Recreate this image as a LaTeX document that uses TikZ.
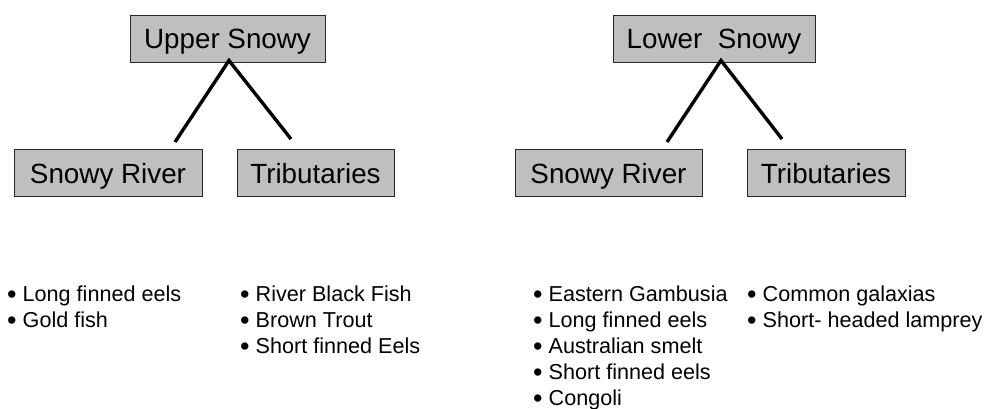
\documentclass[tikz,border=0pt]{standalone}
\usepackage{fontspec}
\setmainfont{Liberation Sans}
\begin{document}
\begin{tikzpicture}[x=1pt,y=-1pt,
  catbox/.style={draw=black!85,line width=0.9pt,fill=black!25,inner sep=0pt,
    text height=26pt,text depth=5pt,
    font=\fontsize{27.8}{32}\selectfont},
  branch/.style={line width=3.4pt,black},
  item/.style={anchor=base west,inner sep=0pt,font=\fontsize{21.6}{26}\selectfont}]
\useasboundingbox (0,0) rectangle (987,409);

% Upper Snowy tree
\node[catbox,minimum width=195pt,minimum height=47pt] (upper) at (227.5,38.5) {Upper Snowy};
\node[catbox,minimum width=188pt,minimum height=47pt] (uriver) at (108,172.5) {Snowy River};
\node[catbox,minimum width=157pt,minimum height=47pt] (utrib) at (315.5,172.5) {Tributaries};
\coordinate (uapex) at (229,60.5);
\coordinate (uleft) at (175,142);
\coordinate (uright) at (291,139);
\draw[branch] (uleft) -- (uapex) -- (uright);

% Lower Snowy tree
\node[catbox,minimum width=202pt,minimum height=47pt] (lower) at (714,38.5) {Lower\ \ Snowy};
\node[catbox,minimum width=187pt,minimum height=47pt] (lriver) at (608.5,172.5) {Snowy River};
\node[catbox,minimum width=158pt,minimum height=47pt] (ltrib) at (826,172.5) {Tributaries};
\coordinate (lapex) at (721,60.5);
\coordinate (lleft) at (667,142);
\coordinate (lright) at (782,139);
\draw[branch] (lleft) -- (lapex) -- (lright);

% species lists
\newcommand{\fishitem}[1]{\makebox[15.5pt][l]{\raisebox{-2.2pt}{\fontsize{27}{26}\selectfont •}}#1}
\foreach \t [count=\i] in {Long finned eels,Gold fish}
  \node[item] (ua\i) at (7,275+26*\i) {\fishitem{\t}};
\foreach \t [count=\i] in {River Black Fish,Brown Trout,Short finned Eels}
  \node[item] (ub\i) at (240,275+26*\i) {\fishitem{\t}};
\foreach \t [count=\i] in {Eastern Gambusia,Long finned eels,Australian smelt,Short finned eels,Congoli}
  \node[item] (la\i) at (533,275+26*\i) {\fishitem{\t}};
\foreach \t [count=\i] in {Common galaxias,Short- headed lamprey}
  \node[item] (lb\i) at (747,275+26*\i) {\fishitem{\t}};
\end{tikzpicture}
\end{document}
